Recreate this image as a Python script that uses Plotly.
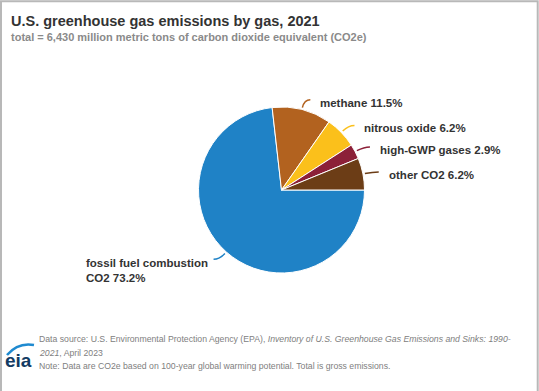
import math
import plotly.graph_objects as go

W, H = 539, 391

categories = ["fossil fuel combustion CO2", "methane", "nitrous oxide", "high-GWP gases", "other CO2"]
values = [73.2, 11.5, 6.2, 2.9, 6.2]
label_texts = ["fossil fuel combustion<br>CO2 73.2%", "methane 11.5%", "nitrous oxide 6.2%",
               "high-GWP gases 2.9%", "other CO2 6.2%"]
colors = ["#1f82c6", "#b2621f", "#fbc01b", "#8c2038", "#6c3d16"]

# pie geometry in pixels
cx, cy, R = 281.5, 190.0, 83.0
rotation = 90  # start at 3 o'clock, clockwise

def px(x):
    return x / W

def py(y):
    return 1 - y / H

fig = go.Figure()
fig.add_trace(go.Pie(
    labels=categories, values=values, sort=False, direction="clockwise",
    rotation=rotation, textinfo="none", hoverinfo="label+percent",
    marker=dict(colors=colors, line=dict(color="white", width=1)),
    domain=dict(x=[px(cx - R), px(cx + R)], y=[py(cy + R), py(cy - R)]),
    showlegend=False,
))

shapes = []
annotations = []
total = sum(values)
cum = 0.0
for v, txt, col in zip(values, label_texts, colors):
    mid = rotation + (cum + v / 2) / total * 360.0
    cum += v
    a = math.radians(mid)
    ux, uy = math.sin(a), -math.cos(a)
    p0 = (cx + (R + 2) * ux, cy + (R + 2) * uy)
    p1 = (cx + (R + 10) * ux, cy + (R + 10) * uy)
    side = 1 if ux >= 0 else -1
    p2 = (p1[0] + 6 * side, p1[1])
    path = "M {} {} Q {} {} {} {}".format(px(p0[0]), py(p0[1]), px(p1[0]), py(p1[1]),
                                           px(p2[0]), py(p2[1]))
    shapes.append(dict(type="path", xref="paper", yref="paper", path=path,
                       line=dict(color=col, width=1.5)))
    if side > 0:
        annotations.append(dict(x=px(p2[0] + 8), y=py(p2[1] + 3), xref="paper", yref="paper",
                                text="<b>" + txt + "</b>", showarrow=False, xanchor="left",
                                yanchor="middle", font=dict(size=11.5, color="#333333")))
    else:
        annotations.append(dict(x=px(p2[0] - 4), y=py(p2[1] - 4), xref="paper", yref="paper",
                                text="<b>" + txt + "</b>", showarrow=False, xanchor="right",
                                yanchor="top", align="left", font=dict(size=11.5, color="#333333")))

# title and subtitle
annotations.append(dict(x=px(9), y=py(21), xref="paper", yref="paper", xanchor="left",
                        yanchor="middle", showarrow=False,
                        text="<b>U.S. greenhouse gas emissions by gas, 2021</b>",
                        font=dict(size=14.5, color="#333333")))
annotations.append(dict(x=px(9), y=py(37), xref="paper", yref="paper", xanchor="left",
                        yanchor="middle", showarrow=False,
                        text="<b>total = 6,430 million metric tons of carbon dioxide equivalent (CO2e)</b>",
                        font=dict(size=11, color="#8a8a8a")))

# footer
footer_lines = [
    "Data source: U.S. Environmental Protection Agency (EPA), <i>Inventory of U.S. Greenhouse Gas Emissions and Sinks: 1990-</i>",
    "<i>2021</i>, April 2023",
    "Note: Data are CO2e based on 100-year global warming potential. Total is gross emissions.",
]
for i, t in enumerate(footer_lines):
    annotations.append(dict(x=px(37), y=py(339 + i * 13.5), xref="paper", yref="paper",
                            xanchor="left", yanchor="middle", showarrow=False, text=t,
                            font=dict(size=8.7, color="#808080")))

# eia logo
annotations.append(dict(x=px(3), y=py(360), xref="paper", yref="paper", xanchor="left",
                        yanchor="middle", showarrow=False, text="<b>eia</b>",
                        font=dict(size=19, color="#123b63", family="Arial, Liberation Sans, sans-serif")))
shapes.append(dict(type="path", xref="paper", yref="paper",
                   path="M {} {} Q {} {} {} {}".format(px(7), py(355), px(18), py(342), px(34), py(345)),
                   line=dict(color="#1f8ad0", width=2.5)))

# frame
shapes.append(dict(type="rect", xref="paper", yref="paper", x0=px(1), x1=px(537.7),
                   y0=-0.05, y1=py(1.2), line=dict(color="#b8b8b8", width=2)))

fig.update_layout(
    width=W, height=H, margin=dict(l=0, r=0, t=0, b=0),
    paper_bgcolor="white", plot_bgcolor="white",
    font=dict(family="Arial, Liberation Sans, sans-serif"),
    shapes=shapes, annotations=annotations,
)
fig.write_html("out.html", config={"displayModeBar": False},
               post_script="document.body.style.margin='0';document.body.style.overflow='hidden';")
